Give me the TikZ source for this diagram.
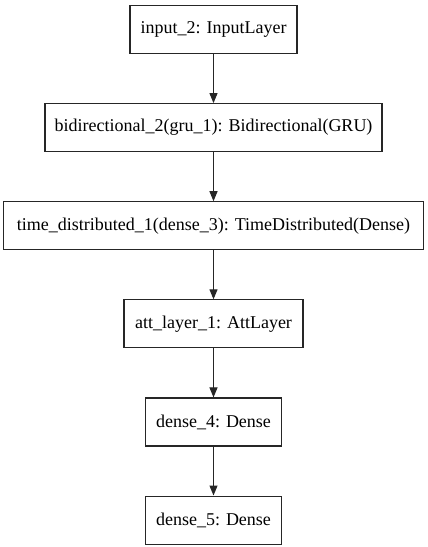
\documentclass[tikz,border=0pt]{standalone}
\usepackage{fontspec}
\setmainfont{Liberation Serif}
\usepackage{tikz}
\usetikzlibrary{arrows.meta,positioning}

\begin{document}
\begin{tikzpicture}[>={Triangle[length=10pt,width=8pt]},x=1pt,y=1pt,
    every node/.style={font=\fontsize{18}{21}\selectfont},
    layerbox/.style={draw=black!85,line width=1.1pt,minimum height=48pt,
      inner xsep=4pt,inner ysep=0pt},
    link/.style={->,draw=black!85,line width=1.1pt},
    node distance=49pt]
  \useasboundingbox (0,0) rectangle (428,-547);
  \node[layerbox,minimum width=167pt,anchor=north] (input) at (213.5,-5)
    {input\_2: InputLayer};
  \node[layerbox,minimum width=337pt,below=of input] (bidir)
    {bidirectional\_2(gru\_1): Bidirectional(GRU)};
  \node[layerbox,minimum width=420pt,below=of bidir] (timedist)
    {time\_distributed\_1(dense\_3): TimeDistributed(Dense)};
  \node[layerbox,minimum width=179pt,below=of timedist] (att)
    {att\_layer\_1: AttLayer};
  \node[layerbox,minimum width=136pt,below=of att] (dense4)
    {dense\_4: Dense};
  \node[layerbox,minimum width=136pt,below=of dense4] (dense5)
    {dense\_5: Dense};
  \draw[link] (input) -- (bidir);
  \draw[link] (bidir) -- (timedist);
  \draw[link] (timedist) -- (att);
  \draw[link] (att) -- (dense4);
  \draw[link] (dense4) -- (dense5);
\end{tikzpicture}
\end{document}
